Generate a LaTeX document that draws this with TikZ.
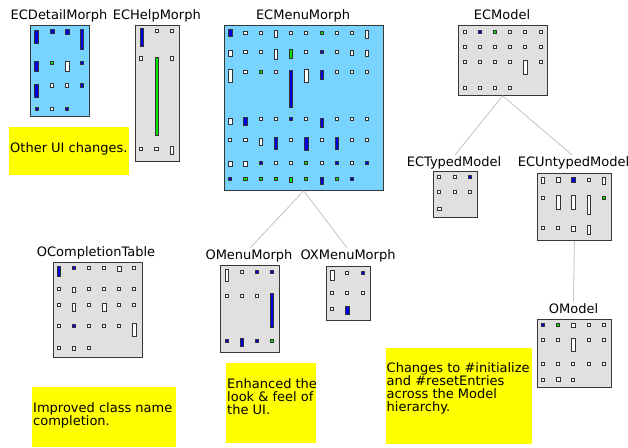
\documentclass[tikz,border=0pt]{standalone}
\usepackage{fontspec}
\setmainfont{DejaVu Sans}
\definecolor{skyb}{RGB}{120,212,255}
\definecolor{boxgray}{RGB}{224,224,224}
\definecolor{noteyel}{RGB}{255,255,0}
\definecolor{itblue}{RGB}{0,0,230}
\definecolor{itgreen}{RGB}{0,230,0}
\definecolor{edgegray}{RGB}{55,55,55}
\definecolor{conngray}{RGB}{195,195,195}
\newcommand\sqi[3]{\draw[#3] ({#1-1.6},{#2-1.6}) rectangle ({#1+1.6},{#2+1.6});}
\newcommand\tli[4]{\draw[#4] ({#1-1.7},{#2-#3/2+0.5}) rectangle ({#1+1.7},{#2+#3/2-0.5});}
\tikzset{
  itw/.style={draw=black!80, fill=white, line width=1pt},
  itb/.style={draw=black!80, fill=itblue, line width=1pt},
  itg/.style={draw=black!80, fill=itgreen, line width=1pt},
  mbox/.style={draw=edgegray, line width=1.3pt, inner sep=0, anchor=north west},
  lbl/.style={anchor=base, inner sep=0, font=\fontsize{13}{13}\selectfont, text=black},
  note/.style={fill=noteyel, draw=none, inner sep=0, anchor=north west},
  notetext/.style={anchor=base west, inner sep=0, font=\fontsize{13}{13}\selectfont, text=black},
  conn/.style={draw=conngray, line width=0.8pt, shorten >=2pt}
}
\begin{document}
\begin{tikzpicture}[x=1pt,y=-1pt]
\useasboundingbox (0,0) rectangle (628,447);
\fill[white] (0,0) rectangle (628,447);

% ---------- boxes ----------
\node[mbox, fill=skyb, minimum width=59pt, minimum height=91pt] (detail) at (29.5,24.5) {};
\node[mbox, fill=boxgray, minimum width=44.5pt, minimum height=136pt] (help) at (134.5,24.5) {};
\node[mbox, fill=skyb, minimum width=159pt, minimum height=165pt] (menu) at (223.5,24.5) {};
\node[mbox, fill=boxgray, minimum width=89pt, minimum height=70pt] (model) at (457.5,24.5) {};
\node[mbox, fill=boxgray, minimum width=44pt, minimum height=46pt] (typed) at (432.5,170.5) {};
\node[mbox, fill=boxgray, minimum width=73.5pt, minimum height=67pt] (untyped) at (537,172.5) {};
\node[mbox, fill=boxgray, minimum width=73.5pt, minimum height=68pt] (omodel) at (537,318.5) {};
\node[mbox, fill=boxgray, minimum width=89.5pt, minimum height=95.5pt] (compl) at (52.5,261.5) {};
\node[mbox, fill=boxgray, minimum width=59.5pt, minimum height=87.5pt] (omenu) at (219.5,264.5) {};
\node[mbox, fill=boxgray, minimum width=44.5pt, minimum height=54.5pt] (oxmenu) at (325.5,265.5) {};

% ---------- labels ----------
\node[lbl] (detailL) at (59,19.5) {ECDetailMorph};
\node[lbl] (helpL) at (156.8,19.5) {ECHelpMorph};
\node[lbl] (menuL) at (303,19.5) {ECMenuMorph};
\node[lbl] (modelL) at (502,19.5) {ECModel};
\node[lbl] (typedL) at (454,166.3) {ECTypedModel};
\node[lbl] (untypedL) at (573.5,166.3) {ECUntypedModel};
\node[lbl] (omodelL) at (573.5,313.3) {OModel};
\node[lbl] (complL) at (96,256.7) {OCompletionTable};
\node[lbl] (omenuL) at (249,259.3) {OMenuMorph};
\node[lbl] (oxmenuL) at (348,259.3) {OXMenuMorph};

% ---------- connectors ----------
\draw[conn] (menu.south) -- (omenuL.north);
\draw[conn] (menu.south) -- (oxmenuL.north);
\draw[conn] (model.south) -- (typedL.north);
\draw[conn] (model.south) -- (untypedL.north);
\draw[conn] (untyped.south) -- (omodelL.north);

% ---------- notes ----------
\node[note, minimum width=120pt, minimum height=48pt] (n1) at (9,127) {};
\node[notetext] (n1t) at (10,152.5) {\parbox[t]{200pt}{\raggedright Other UI changes.}};
\node[note, minimum width=144pt, minimum height=60pt] (n2) at (32,387) {};
\node[notetext] (n2t) at (33,412) {\parbox[t]{200pt}{\raggedright Improved class name\\completion.}};
\node[note, minimum width=90pt, minimum height=80pt] (n3) at (226,363) {};
\node[notetext] (n3t) at (227,388.3) {\parbox[t]{200pt}{\raggedright Enhanced the\\look \& feel of\\the UI.}};
\node[note, minimum width=146pt, minimum height=96pt] (n4) at (386,348) {};
\node[notetext] (n4t) at (386.5,372.7) {\parbox[t]{200pt}{\raggedright Changes to \#initialize\\and \#resetEntries\\across the Model\\hierarchy.}};

% ---------- ECDetailMorph items ----------
\tli{36.5}{37}{14}{itb} \sqi{52.5}{31.5}{itb} \tli{67.3}{32}{6}{itb} \tli{82}{39.5}{21}{itb}
\tli{36.5}{66.5}{11}{itb} \sqi{52}{63}{itg} \tli{67.3}{66}{11}{itw} \sqi{82}{63}{itb}
\tli{36.5}{91}{14}{itb} \sqi{52}{85.5}{itw} \sqi{67.3}{85.5}{itw} \sqi{82}{85.5}{itb}
\sqi{36.8}{108.7}{itb} \sqi{52}{108.7}{itw} \sqi{67.3}{108.7}{itb}

% ---------- ECHelpMorph items ----------
\tli{141.7}{37.8}{19}{itb} \sqi{156.8}{30.8}{itw} \sqi{172}{30.8}{itw}
\sqi{141.2}{58.5}{itw} \tli{157}{96.2}{79}{itg} \sqi{172}{58.5}{itw}
\sqi{141.2}{148.7}{itw} \sqi{156.5}{148.7}{itw} \tli{172.2}{150.5}{9}{itw}

% ---------- ECMenuMorph items ----------
% row 1
\tli{230.3}{33.3}{8}{itb} \sqi{245.5}{32.7}{itw} \sqi{260.7}{32.7}{itw} \tli{276}{33.5}{8}{itw}
\sqi{291}{32.7}{itw} \sqi{306.3}{32.7}{itw} \sqi{321.7}{32.7}{itg} \sqi{336.7}{32.7}{itw}
\sqi{351.7}{32.7}{itw} \tli{366.7}{34.3}{9}{itw}
% row 2
\tli{230.3}{53.3}{6.5}{itw} \sqi{245.5}{52.3}{itw} \sqi{260.7}{52.3}{itw} \tli{276}{54.7}{10.5}{itw}
\tli{291}{54.3}{10}{itg} \sqi{306.3}{52.3}{itw} \sqi{321.7}{52.3}{itb} \sqi{336.7}{52.3}{itw}
\tli{351.7}{53}{6}{itw} \tli{366.7}{53.3}{6.5}{itw}
% row 3
\tli{230.3}{76.3}{14}{itw} \sqi{245.5}{71.7}{itw} \sqi{260.7}{71.7}{itg} \sqi{276}{71.7}{itw}
\tli{291}{88.8}{37.5}{itb} \tli{306.3}{76}{13.3}{itw} \tli{321.7}{75}{10}{itb} \sqi{336.7}{71.7}{itw}
\sqi{351.7}{71.7}{itw} \sqi{366.7}{71.7}{itw}
% row 4
\tli{230.3}{121.3}{7}{itw} \tli{245.5}{121.7}{8.5}{itb} \sqi{260.7}{119.3}{itw} \sqi{276}{119.3}{itw}
\sqi{291}{119.3}{itb} \sqi{306.3}{119.3}{itw} \tli{321.7}{122.7}{10}{itb} \sqi{336.7}{119.3}{itw}
\sqi{351.7}{119.3}{itw} \sqi{366.7}{119.3}{itw}
% row 5
\sqi{230.3}{140}{itw} \sqi{245.5}{140}{itw} \tli{260.7}{141.5}{8}{itw} \tli{276}{143.7}{12.7}{itb}
\sqi{291}{140}{itw} \tli{306.3}{144}{13.3}{itb} \sqi{321.7}{140}{itw} \tli{336.7}{143.7}{12.7}{itb}
\sqi{351.7}{140}{itw} \sqi{366.7}{140}{itw}
% row 6
\tli{230.3}{163.8}{5.7}{itw} \tli{245.5}{163.8}{5.7}{itw} \sqi{260.7}{163.3}{itb} \sqi{276}{163.3}{itw}
\sqi{291}{163.3}{itw} \sqi{306.3}{163.3}{itg} \sqi{321.7}{163.3}{itw} \sqi{336.7}{163.3}{itb}
\sqi{351.7}{163.3}{itw} \sqi{366.7}{163.3}{itb}
% row 7
\sqi{230.3}{179.3}{itb} \sqi{245.5}{179.3}{itg} \sqi{260.7}{179.3}{itg} \sqi{276}{179.3}{itg}
\tli{291}{180.3}{6}{itg} \sqi{306.3}{179.3}{itg} \tli{321.7}{180.8}{8.3}{itb} \sqi{336.7}{179.3}{itg}
\sqi{351.7}{179.3}{itb}

% ---------- ECModel items ----------
\sqi{464.7}{31.7}{itw} \sqi{480}{31.7}{itb} \sqi{495.3}{31.7}{itg} \tli{510}{32.2}{4.5}{itw} \sqi{525.3}{31.7}{itw} \sqi{540.7}{31.7}{itw}
\sqi{464.7}{46.7}{itw} \sqi{480}{46.7}{itw} \sqi{495.3}{46.7}{itw} \sqi{510}{46.7}{itw} \sqi{525.3}{46.7}{itw} \sqi{540.7}{46.7}{itw}
\sqi{464.7}{62}{itw} \sqi{480}{62}{itw} \sqi{495.3}{62}{itw} \sqi{510}{62}{itw} \tli{525.3}{67.7}{15}{itw} \sqi{540.7}{62}{itw}
\sqi{464.7}{87.7}{itw} \sqi{480}{87.7}{itw} \sqi{495.3}{87.7}{itw} \sqi{510}{87.7}{itw}

% ---------- ECTypedModel items ----------
\sqi{439.3}{177}{itw} \sqi{454.7}{177}{itw} \sqi{469.7}{177}{itb}
\sqi{439.3}{192.3}{itw} \sqi{454.7}{192.3}{itw} \sqi{469.7}{192.3}{itw}
\tli{439.3}{209}{4.7}{itw}

% ---------- ECUntypedModel items ----------
\tli{543}{180.3}{6.7}{itw} \tli{558.3}{180}{5.3}{itw} \tli{573.3}{180}{6.7}{itb} \sqi{589}{179.7}{itw} \tli{604}{180.8}{8.3}{itw}
\sqi{543}{197.7}{itw} \tli{558.3}{202.5}{15}{itw} \tli{573.3}{202.5}{15}{itw} \tli{589}{205}{20}{itw} \sqi{604}{197.7}{itg}
\sqi{543}{228.3}{itw} \sqi{558.3}{228.3}{itw} \tli{573.3}{228.8}{5.7}{itw} \tli{589}{230.3}{10}{itw}

% ---------- OModel items ----------
\sqi{543.3}{325}{itb} \sqi{558.3}{325}{itg} \tli{573.3}{325.3}{5.3}{itw} \sqi{589}{325}{itw} \sqi{604}{325}{itw}
\sqi{543.3}{340.3}{itw} \sqi{558.3}{340.3}{itw} \tli{573.3}{344.5}{14}{itw} \sqi{589}{340.3}{itw} \sqi{604}{340.3}{itw}
\sqi{543.3}{364.3}{itw} \sqi{558.3}{364.3}{itw} \sqi{573.3}{364.3}{itw} \sqi{589}{364.3}{itw} \sqi{604}{364.3}{itw}
\sqi{543.3}{379.7}{itw} \tli{558.3}{379.7}{4.7}{itw} \sqi{573.3}{379.7}{itw}

% ---------- OCompletionTable items ----------
\tli{59}{271.3}{10.7}{itb} \sqi{74}{268.3}{itb} \sqi{89.3}{268.3}{itw} \sqi{104.3}{268.3}{itw} \tli{119.3}{269}{6.3}{itw} \sqi{134.3}{268.3}{itw}
\sqi{59}{289.3}{itw} \tli{74}{290}{5.3}{itw} \sqi{89.3}{289.3}{itw} \sqi{104.3}{289.3}{itw} \sqi{119.3}{289.3}{itw} \sqi{134.3}{289.3}{itw}
\sqi{59}{305}{itw} \tli{74}{307.3}{9.3}{itw} \sqi{89.3}{305}{itw} \tli{104.3}{307.3}{9.3}{itw} \sqi{119.3}{305}{itw} \sqi{134.3}{305}{itw}
\sqi{59}{325.7}{itw} \sqi{74}{325.7}{itb} \sqi{89.3}{325.7}{itw} \sqi{104.3}{325.7}{itw} \sqi{119.3}{325.7}{itw} \tli{134.3}{330}{13.3}{itw}
\sqi{59}{348.3}{itw} \tli{74}{348.7}{5}{itw} \sqi{89.3}{348.3}{itw}

% ---------- OMenuMorph items ----------
\tli{226.7}{275.7}{13.3}{itw} \sqi{241.7}{271.7}{itw} \sqi{256.7}{271.7}{itb} \sqi{271.7}{271.7}{itb}
\sqi{226.7}{295.7}{itw} \sqi{241.7}{295.7}{itw} \sqi{256.7}{295.7}{itw} \tli{271.7}{310.8}{35}{itb}
\sqi{226.7}{340.7}{itb} \tli{241.7}{342.8}{9}{itb} \sqi{256.7}{340.7}{itb} \sqi{271.7}{340.7}{itg}

% ---------- OXMenuMorph items ----------
\tli{332.3}{275.3}{10.7}{itw} \sqi{347.3}{272.7}{itw} \sqi{362.7}{272.7}{itb}
\sqi{332.3}{293.3}{itw} \sqi{347.3}{293.3}{itw} \sqi{362.7}{293.3}{itw}
\sqi{332.3}{309}{itw} \tli{347.3}{310.7}{9.3}{itb}
\end{tikzpicture}
\end{document}
